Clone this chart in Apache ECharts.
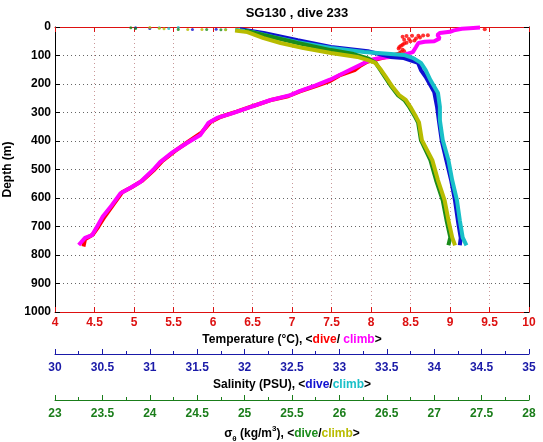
<!DOCTYPE html>
<html>
<head>
<meta charset="utf-8">
<script src="https://cdn.jsdelivr.net/npm/echarts@6/dist/echarts.min.js"></script>
<style>html,body{margin:0;padding:0;background:#fff}#c{width:543px;height:442px}</style>
</head>
<body>
<div id="c"></div>
<script>
// ---- data: [value, depth(m)] ----
var tempDive = [[8.38,92],[8.2,105],[8.1,112],[7.95,122],[7.87,135],[7.8,150],[7.6,170],[7.48,190],[7.3,207],[7.1,226],[6.95,243],[6.75,255],[6.5,278],[6.3,297],[6.1,315],[5.97,333],[5.85,372],[5.7,400],[5.52,435],[5.36,470],[5.26,500],[5.1,540],[4.97,562],[4.85,580],[4.74,622],[4.63,665],[4.55,700],[4.48,728],[4.38,745],[4.36,770]];
var tempDiveUpper = [[9.44,8],[8.72,29],[8.66,30],[8.6,31],[8.52,31],[8.45,32],[8.4,34],[8.62,37],[8.57,40],[8.48,42],[8.42,45],[8.55,47],[8.5,50],[8.45,55],[8.42,58],[8.4,62],[8.38,66],[8.36,70],[8.35,75],[8.4,80],[8.42,85],[8.38,88],[8.36,92]];
var tempClimb = [[9.38,2],[9.25,4],[9.15,6],[9.05,12],[9.0,17],[8.87,21],[8.84,28],[8.87,40],[8.8,50],[8.68,52],[8.6,56],[8.57,70],[8.53,88],[8.41,98],[8.24,105],[8.11,109],[7.99,116],[7.73,151],[7.48,185],[7.3,205],[7.07,228],[6.98,239],[6.72,257],[6.47,281],[6.25,302],[6.05,319],[5.94,337],[5.84,379],[5.67,407],[5.49,439],[5.33,474],[5.24,502],[5.08,544],[4.95,565],[4.83,583],[4.72,625],[4.6,667],[4.53,702],[4.47,730],[4.38,740],[4.3,765]];
var salDive = [[31.95,8],[32.2,21],[32.56,46],[32.91,70],[33.3,85],[33.54,105],[33.68,109],[33.83,126],[33.86,151],[33.91,175],[34.0,228],[34.03,280],[34.05,330],[34.08,400],[34.13,470],[34.18,540],[34.22,610],[34.25,680],[34.28,740],[34.27,766]];
var salClimb = [[31.9,10],[32.09,18],[32.3,35],[32.56,53],[32.91,74],[33.26,88],[33.44,92],[33.68,98],[33.78,109],[33.86,126],[33.91,151],[33.96,186],[34.04,232],[34.06,280],[34.06,327],[34.09,397],[34.15,467],[34.19,538],[34.24,608],[34.27,678],[34.30,738],[34.34,766]];
var salDiveSurface = [[30.85,3],[31.0,5],[31.45,9],[31.7,8]];
var salClimbSurface = [[31.1,3],[31.2,5],[31.3,2],[31.8,9]];
var sigDive = [[25.0,12],[25.2,28],[25.56,56],[25.91,81],[26.15,95],[26.3,110],[26.38,125],[26.43,150],[26.48,175],[26.55,210],[26.62,240],[26.69,258],[26.74,282],[26.8,316],[26.83,335],[26.86,397],[26.96,467],[27.02,538],[27.09,608],[27.13,678],[27.17,738],[27.15,766]];
var sigClimb = [[24.9,12],[25.03,18],[25.2,39],[25.38,56],[25.62,74],[25.91,91],[26.19,105],[26.30,116],[26.38,126],[26.44,151],[26.49,175],[26.56,210],[26.63,239],[26.70,256],[26.75,281],[26.81,316],[26.84,335],[26.87,397],[26.98,467],[27.04,538],[27.11,608],[27.15,678],[27.19,738],[27.22,766]];
var sigDiveSurface = [[23.8,3],[23.85,5],[24.3,9],[24.6,9],[24.75,10]];
var sigClimbSurface = [[24.0,2],[24.1,4],[24.15,6],[24.4,9],[24.55,9],[24.8,10]];
var titleText = 'SG130 , dive 233';

var FF = '"Liberation Sans", Arial, Helvetica, sans-serif';
var cRed = '#dd1111', cBlue = '#1a1aa8', cGreen = '#1a7d1a';
var chart = echarts.init(document.getElementById('c'));

function lineS(name, data, xi, color, z) {
  return {name: name, type: 'line', data: data, xAxisIndex: xi, yAxisIndex: 0, showSymbol: false, symbol: 'none',
    lineStyle: {color: color, width: 4}, z: z, animation: false};
}
function scat(name, data, xi, color, z, size) {
  return {name: name, type: 'scatter', data: data, xAxisIndex: xi, yAxisIndex: 0, symbolSize: size || 3,
    itemStyle: {color: color}, z: z, animation: false};
}
function plain(v) { return String(v); }
function bottomAxis(min, max, color, offset, name, rich, gap, minor, split) {
  return {
    type: 'value', min: min, max: max, interval: 0.5, position: 'bottom', offset: offset,
    axisLine: {onZero: false, lineStyle: {color: color, width: 1}},
    axisTick: {inside: true, length: 5, lineStyle: {color: color}},
    minorTick: {show: minor, splitNumber: 2, length: 3, lineStyle: {color: color}},
    axisLabel: {color: color, fontFamily: FF, fontWeight: 'bold', fontSize: 12, margin: offset ? 8 : 5, formatter: plain},
    splitLine: {show: split, lineStyle: {color: '#c89898', type: [1, 3], width: 1}},
    name: name, nameLocation: 'middle', nameGap: gap,
    nameTextStyle: {fontFamily: FF, fontWeight: 'bold', fontSize: 12, color: '#000', rich: rich}
  };
}
var baseRich = {fontFamily: FF, fontWeight: 'bold', fontSize: 12};
function R(color, extra) { var o = Object.assign({}, baseRich, {color: color}); return Object.assign(o, extra || {}); }

var option = {
  backgroundColor: '#fff',
  animation: false,
  title: {text: titleText, left: 292, top: 2, textAlign: 'center',
    textStyle: {fontFamily: FF, fontWeight: 'bold', fontSize: 13, color: '#000'}},
  grid: {left: 55, right: 14, top: 27, bottom: 130, containLabel: false, outerBoundsMode: 'none'},
  xAxis: [
    bottomAxis(4, 10, cRed, 0, '{k|Temperature (°C), <}{r|dive}{k|/ }{m|climb}{k|>}',
      {k: R('#000'), r: R('#ff0000'), m: R('#ff00ff')}, 18, false, true),
    {type: 'value', min: 4, max: 10, interval: 0.5, position: 'top',
      axisLine: {onZero: false, lineStyle: {color: cRed}}, axisTick: {inside: true, length: 5, lineStyle: {color: cRed}},
      axisLabel: {show: false}, splitLine: {show: false}},
    bottomAxis(30, 35, cBlue, 42, '{k|Salinity (PSU), <}{b|dive}{k|/}{c|climb}{k|>}',
      {k: R('#000'), b: R('#1010d0'), c: R('#19c0c8')}, 23, true, false),
    bottomAxis(23, 28, cGreen, 88, '{k|σ}{s|θ}{k| (kg/m}{p|3}{k|), <}{g|dive}{k|/}{y|climb}{k|>}',
      {k: R('#000', {lineHeight: 18}), s: R('#000', {fontSize: 8, verticalAlign: 'bottom', lineHeight: 18}),
       p: R('#000', {fontSize: 8, verticalAlign: 'top', lineHeight: 18}),
       g: R('#1a8c1a', {lineHeight: 18}), y: R('#b8bc00', {lineHeight: 18})}, 21, true, false)
  ],
  yAxis: [
    {type: 'value', inverse: true, min: 0, max: 1000, interval: 100, position: 'left',
      axisLine: {onZero: false, lineStyle: {color: '#000'}}, axisTick: {inside: true, length: 5, lineStyle: {color: '#000'}},
      axisLabel: {color: '#000', fontFamily: FF, fontWeight: 'bold', fontSize: 12, margin: 4, formatter: plain},
      splitLine: {show: true, lineStyle: {color: '#666', type: [1, 3], width: 1}},
      name: 'Depth (m)', nameLocation: 'middle', nameGap: 40, nameRotate: 90,
      nameTextStyle: {fontFamily: FF, fontWeight: 'bold', fontSize: 12, color: '#000'}},
    {type: 'value', inverse: true, min: 0, max: 1000, interval: 100, position: 'right',
      axisLine: {onZero: false, lineStyle: {color: '#000'}}, axisTick: {inside: true, length: 5, lineStyle: {color: '#000'}},
      axisLabel: {show: false}, splitLine: {show: false}}
  ],
  series: [
    lineS('T dive', tempDive, 0, '#ff0000', 3),
    scat('T dive upper', tempDiveUpper, 0, '#ff0000', 3, 4),
    lineS('T climb', tempClimb, 0, '#ff00ff', 4),
    lineS('S dive', salDive, 2, '#1010d0', 5),
    lineS('S climb', salClimb, 2, '#19c0c8', 6),
    scat('S dive s', salDiveSurface, 2, '#1010d0', 6),
    scat('S climb s', salClimbSurface, 2, '#19c0c8', 6),
    lineS('sig dive', sigDive, 3, '#1a8c1a', 7),
    lineS('sig climb', sigClimb, 3, '#b8bc00', 8),
    scat('sig dive s', sigDiveSurface, 3, '#1a8c1a', 8),
    scat('sig climb s', sigClimbSurface, 3, '#b8bc00', 8)
  ]
};
chart.setOption(option);
</script>
</body>
</html>
